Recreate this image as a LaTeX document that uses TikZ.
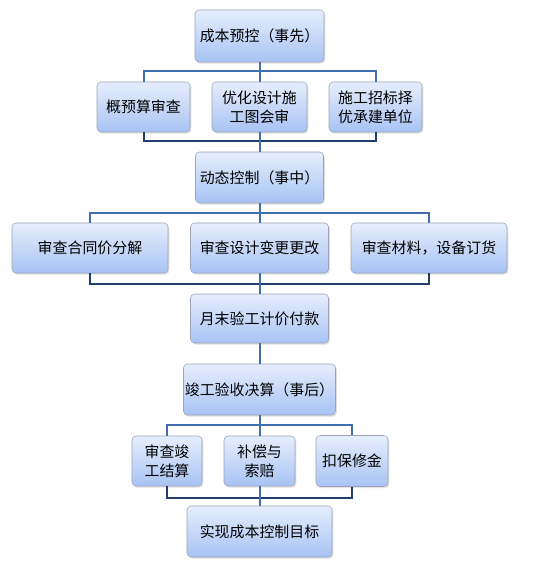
\documentclass[tikz,border=0pt]{standalone}
\usepackage{fontspec}
\setmainfont{Noto Sans CJK SC}
\usetikzlibrary{shadows}

\definecolor{boxtop}{HTML}{E6EEFC}
\definecolor{boxbot}{HTML}{A7C3F4}
\definecolor{boxedge}{HTML}{9AA4B6}
\definecolor{splitline}{HTML}{3F6FAE}
\definecolor{mergeline}{HTML}{213E6C}

\begin{document}
\begin{tikzpicture}[
  x=0.75pt, y=-0.75pt,
  stage/.style={rectangle, draw=boxedge, rounded corners=3pt, top color=boxtop, bottom color=boxbot,
                align=center, inner sep=1pt, font=\fontsize{11.2}{14.5}\selectfont,
                drop shadow={shadow xshift=1pt, shadow yshift=-1.2pt, opacity=0.25}},
  split/.style={draw=splitline, line width=1.5pt},
  merge/.style={draw=mergeline, line width=1.5pt}
]
  \useasboundingbox (0,0) rectangle (555,566);

  % ===== Before: cost pre-control =====
  \node[stage, minimum width=96.75pt, minimum height=39pt] (pre) at (259.5,36) {成本预控（事先）};
  \node[stage, minimum width=69.75pt, minimum height=37.5pt] (pre1) at (143.5,107) {概预算审查};
  \node[stage, minimum width=71.25pt, minimum height=37.5pt] (pre2) at (259.5,107) {优化设计施\\工图会审};
  \node[stage, minimum width=69.75pt, minimum height=37.5pt] (pre3) at (375.5,107) {施工招标择\\优承建单位};

  % ===== During: dynamic control =====
  \node[stage, minimum width=96pt, minimum height=38.25pt] (dyn) at (259.5,177.5) {动态控制（事中）};
  \node[stage, minimum width=117pt, minimum height=37.5pt] (dyn1) at (90,248) {审查合同价分解};
  \node[stage, minimum width=103.5pt, minimum height=37.5pt] (dyn2) at (259.5,248) {审查设计变更更改};
  \node[stage, minimum width=117pt, minimum height=37.5pt] (dyn3) at (429,248) {审查材料，设备订货};
  \node[stage, minimum width=103.5pt, minimum height=36.75pt] (pay) at (259.5,318.5) {月末验工计价付款};

  % ===== After: completion settlement =====
  \node[stage, minimum width=112.5pt, minimum height=38.25pt] (post) at (259.5,389.5) {竣工验收决算（事后）};
  \node[stage, minimum width=52.5pt, minimum height=37.5pt] (post1) at (167,461) {审查竣\\工结算};
  \node[stage, minimum width=53.25pt, minimum height=37.5pt] (post2) at (259.5,461) {补偿与\\索赔};
  \node[stage, minimum width=54pt, minimum height=38.25pt] (post3) at (352,461) {扣保修金};
  \node[stage, minimum width=108.75pt, minimum height=38.25pt] (goal) at (259.5,531.5) {实现成本控制目标};

  % ===== Junction points =====
  \coordinate (j1) at (259.5,71);
  \coordinate (j2) at (259.5,141);
  \coordinate (j3) at (259.5,213);
  \coordinate (j4) at (259.5,284);
  \coordinate (j5) at (259.5,425);
  \coordinate (j6) at (259.5,498);

  % ===== Connectors =====
  \draw[split] (pre1.north) |- (j1) -| (pre3.north);
  \draw[split] (pre.south) -- (pre2.north);
  \draw[merge] (pre1.south) |- (j2) -| (pre3.south);
  \draw[split] (pre2.south) -- (dyn.north);
  \draw[split] (dyn1.north) |- (j3) -| (dyn3.north);
  \draw[split] (dyn.south) -- (dyn2.north);
  \draw[merge] (dyn1.south) |- (j4) -| (dyn3.south);
  \draw[split] (dyn2.south) -- (pay.north);
  \draw[split] (pay.south) -- (post.north);
  \draw[split] (post1.north) |- (j5) -| (post3.north);
  \draw[split] (post.south) -- (post2.north);
  \draw[merge] (post1.south) |- (j6) -| (post3.south);
  \draw[split] (post2.south) -- (goal.north);
\end{tikzpicture}
\end{document}
